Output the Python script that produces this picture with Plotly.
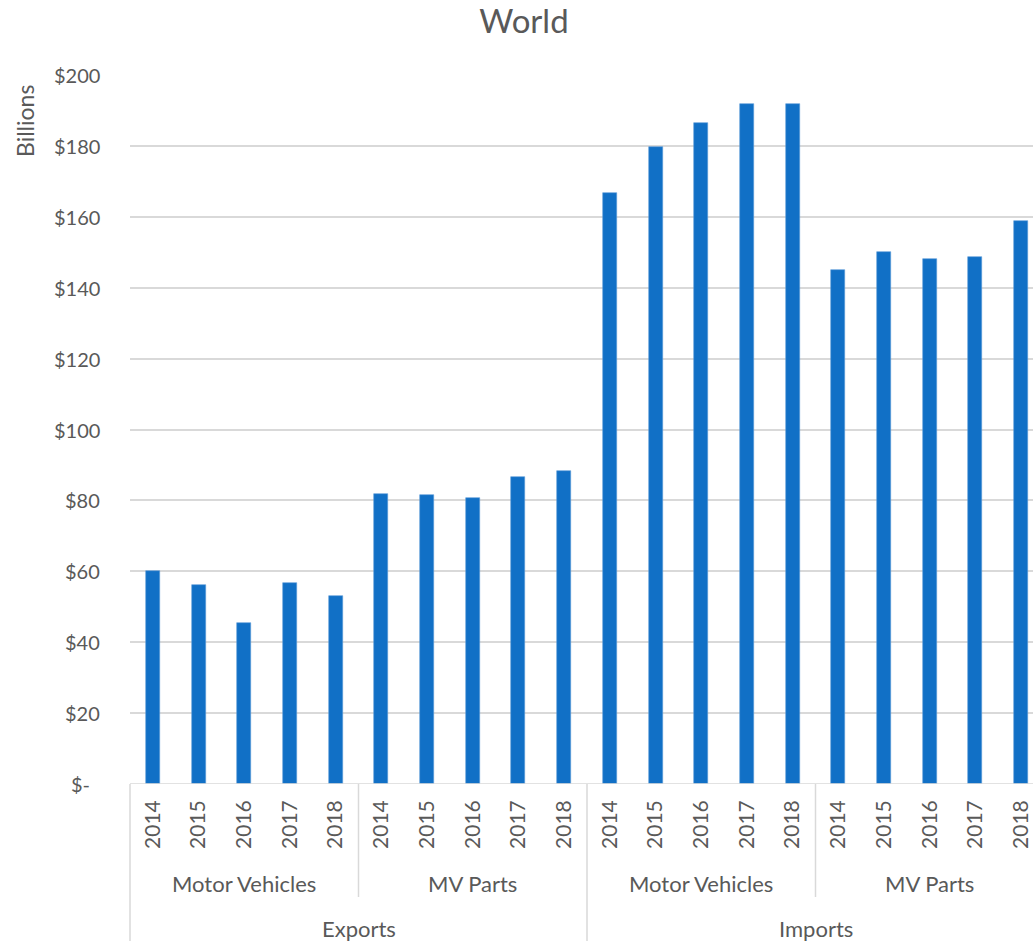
import plotly.graph_objects as go

# ---- data ----
years = ["2014", "2015", "2016", "2017", "2018"]
products = ["Motor Vehicles", "MV Parts"]
flows = ["Exports", "Imports"]
exports_mv = [60.2, 56.0, 45.5, 56.6, 53.0]
exports_parts = [81.7, 81.6, 80.8, 86.5, 88.4]
imports_mv = [166.7, 179.8, 186.5, 191.9, 191.9]
imports_parts = [145.0, 150.2, 148.2, 148.7, 158.8]
y_ticks = [0, 20, 40, 60, 80, 100, 120, 140, 160, 180, 200]
y_tick_labels = ["$-", "$20", "$40", "$60", "$80", "$100", "$120", "$140", "$160", "$180", "$200"]

values = exports_mv + exports_parts + imports_mv + imports_parts
xcat = list(range(len(values)))
year_labels = years * 4

W, H = 1033, 941
ML, MT, MB = 130, 75, 157
plot_w = W - ML
plot_h = H - MT - MB
xr = [-0.5, -0.5 + plot_w / 45.7]

FONT = "Lato"
GREY = "#595959"
LINE = "#d9d9d9"

def px_to_paper_y(py):
    return (H - MB - py) / plot_h

def px_to_paper_x(px):
    return (px - ML) / plot_w

def cat_to_paper_x(c):
    return (c - xr[0]) / (xr[1] - xr[0])

fig = go.Figure()
fig.add_trace(go.Bar(x=xcat, y=values, width=0.306,
                     marker=dict(color="#1170C6", line=dict(width=0.6, color="#5a9bd8")),
                     hoverinfo="y"))

shapes = []
# axis line
shapes.append(dict(type="line", xref="paper", yref="y", x0=0, x1=1, y0=0, y1=0,
                   line=dict(color=LINE, width=1.5)))
# group dividers
for c, bottom in [(-0.5, H), (4.5, 897), (9.5, H), (14.5, 897)]:
    xp = cat_to_paper_x(c)
    shapes.append(dict(type="line", xref="paper", yref="paper", x0=xp, x1=xp,
                       y0=0, y1=px_to_paper_y(bottom), line=dict(color=LINE, width=1.5)))

annotations = []
# y tick labels (right aligned, Excel accounting style)
for v, t in zip(y_ticks, y_tick_labels):
    right = 92 if v == 0 else 102
    annotations.append(dict(x=px_to_paper_x(right), xref="paper", y=v, yref="y",
                            text=t, showarrow=False, xanchor="right", yanchor="middle",
                            font=dict(family=FONT, size=20, color=GREY)))
# product labels
for i in range(4):
    annotations.append(dict(x=i * 5 + 2, xref="x", y=px_to_paper_y(883), yref="paper",
                            text=products[i % 2], showarrow=False, xanchor="center",
                            yanchor="middle", font=dict(family=FONT, size=22, color=GREY)))
# flow labels
for i in range(2):
    annotations.append(dict(x=i * 10 + 4.5, xref="x", y=px_to_paper_y(929), yref="paper",
                            text=flows[i], showarrow=False, xanchor="center",
                            yanchor="middle", font=dict(family=FONT, size=22, color=GREY)))
# y axis title
annotations.append(dict(x=px_to_paper_x(25), xref="paper", y=px_to_paper_y(121), yref="paper",
                        text="Billions", textangle=-90, showarrow=False,
                        xanchor="center", yanchor="middle",
                        font=dict(family=FONT, size=23, color=GREY)))

fig.update_layout(
    width=W, height=H,
    margin=dict(l=ML, r=0, t=MT, b=MB, pad=0),
    paper_bgcolor="white", plot_bgcolor="white",
    showlegend=False,
    title=dict(text="World", x=524 / W, xref="container", xanchor="center",
               y=1 - 21 / H, yref="container", yanchor="middle",
               font=dict(family=FONT, size=33, color=GREY)),
    xaxis=dict(range=xr, tickmode="array", tickvals=xcat, ticktext=year_labels,
               tickangle=-90, showgrid=False, zeroline=False, showline=False,
               ticks="", ticklabelstandoff=11,
               tickfont=dict(family=FONT, size=21, color=GREY)),
    yaxis=dict(range=[0, 200], tickvals=y_ticks, showticklabels=False,
               showgrid=True, gridcolor=LINE, gridwidth=1.5,
               zeroline=False, showline=False, ticks=""),
    shapes=shapes,
    annotations=annotations,
    bargap=0,
)

fig.write_html("out.html")
